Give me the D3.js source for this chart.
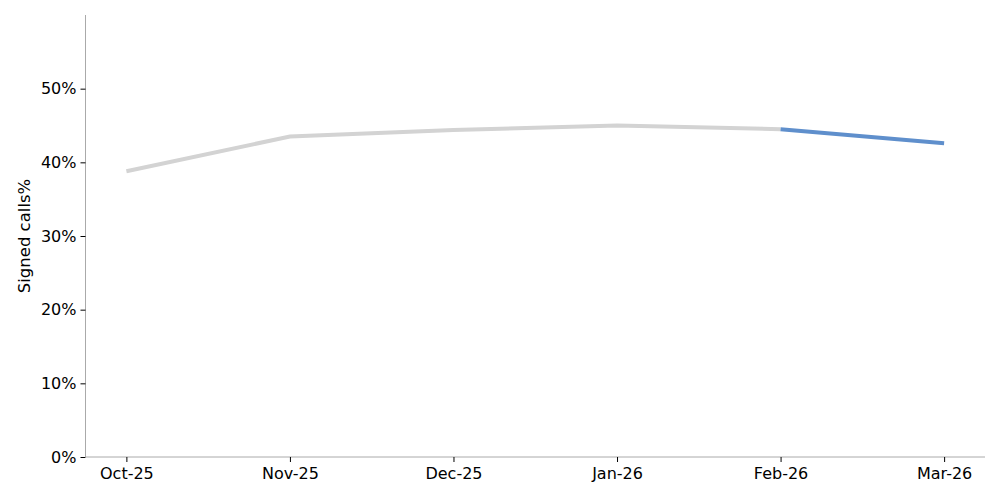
<!DOCTYPE html>
<html lang="en">
<head>
    <meta charset="utf-8">
    <title>Signed calls%</title>
    <style>
        body { margin: 0; background: white; }
        svg { display: block; }
        .tick text { font-family: "DejaVu Sans", sans-serif; font-size: 16px; fill: #000; }
        .tick line { stroke: #000; }
        .domain { stroke: #aaa; }
        .axis-title { font-family: "DejaVu Sans", sans-serif; font-size: 16.5px; fill: #000; text-anchor: middle; }
    </style>
    <script src="https://d3js.org/d3.v7.min.js"></script>
</head>
<body>
<svg id="chart" width="1000" height="500"></svg>
<script>
    const months = ["Oct-25", "Nov-25", "Dec-25", "Jan-26", "Feb-26", "Mar-26"];
    const signedPct = [38.8, 43.5, 44.4, 45.0, 44.5, 42.6];
    const highlightFrom = "Feb-26";
    const yTicks = [0, 10, 20, 30, 40, 50];

    const margin = { top: 15, right: 15, bottom: 43, left: 85.5 };
    const width = 1000, height = 500;

    const svg = d3.select("#chart");

    const x = d3.scalePoint()
        .domain(months)
        .range([margin.left, width - margin.right])
        .padding(0.25);

    const y = d3.scaleLinear()
        .domain([0, 60])
        .range([height - margin.bottom, margin.top]);

    // left spine + ticks
    const yAxis = svg.append("g")
        .attr("transform", `translate(${margin.left},0)`)
        .call(d3.axisLeft(y).tickValues(yTicks).tickSize(5).tickPadding(4).tickFormat(d => d + "%"));
    yAxis.select(".domain").attr("d", `M0,${y(0)}V${y(60)}`);

    // bottom spine + ticks
    const xAxis = svg.append("g")
        .attr("transform", `translate(0,${y(0)})`)
        .call(d3.axisBottom(x).tickSize(5).tickPadding(6));
    xAxis.select(".domain").attr("d", `M${margin.left},0H${width - margin.right}`);

    svg.append("text")
        .attr("class", "axis-title")
        .attr("transform", `translate(30,${(y(0) + y(60)) / 2}) rotate(-90)`)
        .text("Signed calls%");

    const data = months.map((m, i) => ({ m, v: signedPct[i] }));
    const cut = months.indexOf(highlightFrom);

    const line = d3.line()
        .x(d => x(d.m))
        .y(d => y(d.v));

    svg.append("path")
        .datum(data.slice(0, cut + 1))
        .attr("d", line)
        .attr("fill", "none")
        .attr("stroke", "#d3d3d3")
        .attr("stroke-width", 4);

    svg.append("path")
        .datum(data.slice(cut))
        .attr("d", line)
        .attr("fill", "none")
        .attr("stroke", "#5f8fcc")
        .attr("stroke-width", 4);
</script>
</body>
</html>
